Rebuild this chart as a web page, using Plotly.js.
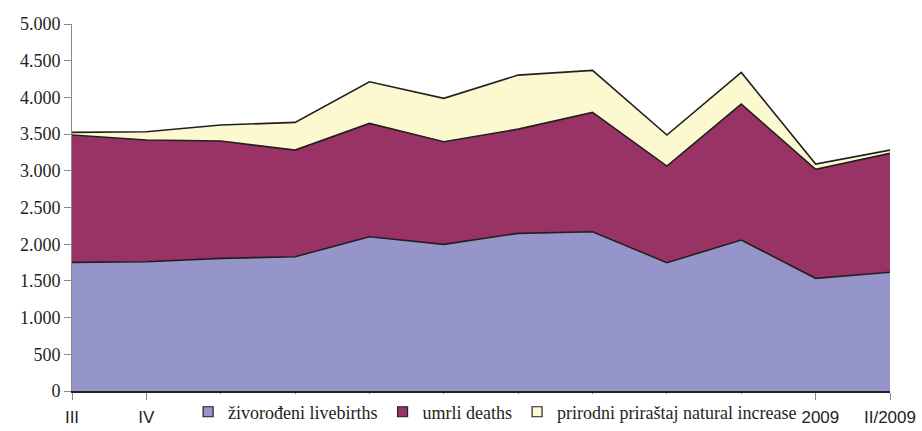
<!DOCTYPE html>
<html>
<head>
<meta charset="utf-8">
<script src="https://cdn.plot.ly/plotly-3.0.1.min.js"></script>
<style>
body{margin:0;background:#fff}
#chart{width:922px;height:431px}
#chart .ytick text, #chart .legendtext { font-family: "Liberation Serif", serif !important; }
#chart .xtick text { font-family: "Liberation Sans", sans-serif !important; }
</style>
</head>
<body>
<div id="chart"></div>
<script>
const months = ["III", "IV", "V", "VI", "VII", "VIII", "IX", "X", "XI", "XII", "I/2009", "II/2009"];
const livebirths = [1753, 1761, 1807, 1829, 2101, 1998, 2148, 2170, 1748, 2057, 1535, 1617];
const deaths = [1734, 1658, 1598, 1453, 1545, 1398, 1420, 1626, 1317, 1852, 1485, 1620];
const naturalIncrease = [36, 113, 218, 378, 567, 591, 736, 572, 422, 431, 72, 45];
const seriesNames = ["živorođeni livebirths", "umrli deaths", "prirodni priraštaj natural increase"];
const yTicks = [0, 500, 1000, 1500, 2000, 2500, 3000, 3500, 4000, 4500, 5000];

const serif = "Liberation Serif, serif";
const sans = "Liberation Sans, sans-serif";
const colors = ["#9595C9", "#993366", "#FCF9D0"];
const series = [livebirths, deaths, naturalIncrease];

const areaTraces = series.map((vals, i) => ({
  type: "scatter",
  mode: "lines",
  x: months,
  y: vals,
  name: seriesNames[i],
  stackgroup: "one",
  fillcolor: colors[i],
  line: {color: "#231F20", width: 1.6},
  showlegend: false
}));

// legend-only entries with square swatches, like the original legend
const legendTraces = seriesNames.map((nm, i) => ({
  type: "scatter",
  mode: "markers",
  x: [months[0]],
  y: [null],
  name: nm,
  marker: {symbol: "square", size: 10, color: colors[i], line: {color: "#231F20", width: 1.2}},
  showlegend: true
}));

const layout = {
  width: 922,
  height: 431,
  margin: {l: 72, r: 32, t: 24, b: 40},
  paper_bgcolor: "#ffffff",
  plot_bgcolor: "#ffffff",
  separators: ",.",
  font: {family: serif, size: 18, color: "#231F20"},
  showlegend: true,
  legend: {
    orientation: "h",
    xref: "container",
    yref: "container",
    x: 0.537,
    xanchor: "center",
    y: 0.044,
    yanchor: "middle",
    bgcolor: "#ffffff",
    font: {family: serif, size: 18, color: "#231F20"},
    itemwidth: 30,
    tracegroupgap: 0,
    traceorder: "normal"
  },
  xaxis: {
    type: "category",
    range: [0, 11],
    showgrid: false,
    zeroline: false,
    showline: true,
    linecolor: "#231F20",
    linewidth: 1.5,
    ticks: "outside",
    ticklen: 7,
    tickcolor: "#888888",
    tickwidth: 1,
    ticklabelstandoff: 3,
    tickfont: {family: sans, size: 17, color: "#231F20"},
    automargin: false,
    fixedrange: true
  },
  yaxis: {
    range: [0, 5000],
    tickvals: yTicks,
    tickformat: ",d",
    showgrid: false,
    zeroline: false,
    showline: true,
    linecolor: "#888888",
    linewidth: 1,
    ticks: "outside",
    ticklen: 7,
    tickcolor: "#888888",
    tickwidth: 1,
    tickfont: {family: serif, size: 18, color: "#231F20"},
    automargin: false,
    fixedrange: true
  }
};

Plotly.newPlot("chart", areaTraces.concat(legendTraces), layout, {displayModeBar: false, staticPlot: true});
</script>
</body>
</html>
